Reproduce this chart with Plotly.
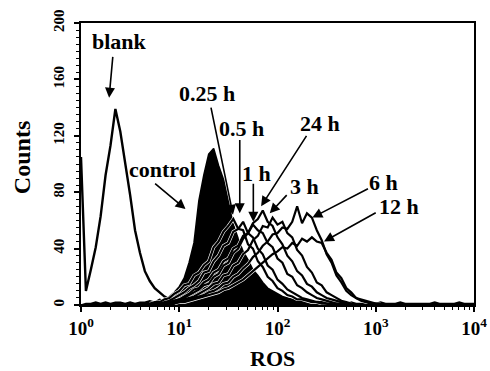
import plotly.graph_objects as go

# channel positions (log10 of ROS intensity)
X_LOG = [
    0.00, 0.05, 0.10, 0.15, 0.20, 0.25, 0.30, 0.35, 0.40, 0.45,
    0.50, 0.55, 0.60, 0.65, 0.70, 0.75, 0.80, 0.85, 0.90, 0.95,
    1.00, 1.05, 1.10, 1.15, 1.20, 1.25, 1.30, 1.35, 1.40, 1.45,
    1.50, 1.55, 1.60, 1.65, 1.70, 1.75, 1.80, 1.85, 1.90, 1.95,
    2.00, 2.05, 2.10, 2.15, 2.20, 2.25, 2.30, 2.35, 2.40, 2.45,
    2.50, 2.55, 2.60, 2.65, 2.70, 2.75, 2.80, 2.85, 2.90, 2.95,
    3.00, 3.05, 3.10, 3.15, 3.20, 3.25, 3.30, 3.35, 3.40, 3.45,
    3.50, 3.55, 3.60, 3.65, 3.70, 3.75, 3.80, 3.85, 3.90, 3.95,
    4.00]

BLANK = [
    105, 10, 25, 41, 63, 92, 113, 139, 123, 101,
    78, 53, 37, 24, 17, 12, 9, 6, 4, 3,
    2, 2, 1, 2, 1, 1, 1, 0, 1, 0,
    0, 0, 0, 0, 0, 0, 0, 0, 0, 0,
    0, 0, 0, 0, 0, 0, 0, 0, 0, 0,
    0, 0, 0, 0, 0, 0, 0, 0, 0, 0,
    0, 0, 0, 0, 0, 0, 0, 0, 0, 0,
    0, 0, 0, 0, 0, 0, 0, 0, 0, 0,
    0]

CONTROL = [
    0, 1, 1, 2, 1, 2, 1, 2, 2, 1,
    2, 1, 2, 2, 3, 2, 4, 3, 6, 9,
    13, 19, 30, 44, 74, 92, 107, 111, 99, 89,
    73, 57, 47, 38, 32, 25, 21, 16, 12, 10,
    8, 6, 5, 4, 3, 3, 2, 2, 3, 2,
    2, 1, 2, 2, 1, 2, 1, 1, 2, 1,
    1, 2, 1, 1, 1, 2, 1, 1, 1, 1,
    1, 1, 2, 1, 1, 1, 1, 2, 1, 1,
    1]

T025 = [
    0, 0, 0, 0, 0, 0, 0, 0, 0, 0,
    0, 0, 0, 0, 1, 2, 2, 4, 5, 8,
    10, 14, 15, 21, 23, 28, 31, 41, 45, 52,
    56, 61, 54, 53, 43, 40, 31, 27, 20, 17,
    12, 10, 7, 6, 4, 4, 3, 2, 2, 1,
    1, 0, 1, 0, 0, 0, 0, 0, 0, 0,
    0, 0, 0, 0, 0, 0, 0, 0, 0, 0,
    0, 0, 0, 0, 0, 0, 0, 0, 0, 0,
    0]

T05 = [
    0, 0, 0, 0, 0, 0, 0, 0, 0, 0,
    0, 0, 0, 0, 0, 1, 1, 2, 3, 5,
    7, 9, 12, 14, 17, 23, 24, 31, 35, 42,
    44, 52, 54, 59, 51, 48, 40, 36, 28, 25,
    18, 15, 11, 9, 7, 5, 4, 3, 2, 2,
    1, 1, 0, 1, 0, 0, 0, 0, 0, 0,
    0, 0, 0, 0, 0, 0, 0, 0, 0, 0,
    0, 0, 0, 0, 0, 0, 0, 0, 0, 0,
    0]

T1 = [
    0, 0, 0, 0, 0, 0, 0, 0, 0, 0,
    0, 0, 0, 0, 0, 0, 0, 1, 2, 3,
    4, 6, 8, 11, 12, 16, 18, 23, 25, 31,
    33, 40, 42, 49, 51, 57, 53, 51, 44, 41,
    33, 30, 22, 20, 14, 12, 9, 7, 5, 4,
    3, 2, 1, 1, 0, 0, 0, 0, 0, 0,
    0, 0, 0, 0, 0, 0, 0, 0, 0, 0,
    0, 0, 0, 0, 0, 0, 0, 0, 0, 0,
    0]

T24 = [
    0, 0, 0, 0, 0, 0, 0, 0, 0, 0,
    0, 0, 0, 0, 0, 0, 0, 1, 2, 3,
    4, 5, 7, 9, 11, 14, 15, 20, 22, 28,
    30, 37, 40, 47, 51, 58, 61, 67, 59, 56,
    48, 43, 35, 31, 24, 21, 15, 13, 9, 7,
    5, 4, 3, 2, 1, 1, 0, 0, 0, 0,
    0, 0, 0, 0, 0, 0, 0, 0, 0, 0,
    0, 0, 0, 0, 0, 0, 0, 0, 0, 0,
    0]

T3 = [
    0, 0, 0, 0, 0, 0, 0, 0, 0, 0,
    0, 0, 0, 0, 0, 0, 0, 0, 1, 2,
    3, 4, 5, 6, 8, 10, 12, 15, 16, 21,
    22, 28, 30, 36, 39, 46, 49, 56, 55, 62,
    57, 59, 51, 48, 39, 35, 27, 23, 16, 14,
    9, 7, 5, 3, 2, 1, 0, 0, 0, 0,
    0, 0, 0, 0, 0, 0, 0, 0, 0, 0,
    0, 0, 0, 0, 0, 0, 0, 0, 0, 0,
    0]

T6 = [
    0, 0, 0, 0, 0, 0, 0, 0, 0, 0,
    0, 0, 0, 0, 0, 0, 0, 0, 1, 2,
    2, 3, 4, 5, 6, 7, 9, 10, 12, 15,
    16, 20, 22, 26, 29, 34, 37, 42, 45, 50,
    51, 55, 54, 59, 70, 58, 65, 62, 53, 46,
    36, 30, 21, 16, 10, 7, 5, 3, 2, 1,
    1, 1, 0, 0, 0, 0, 0, 0, 0, 0,
    0, 0, 0, 0, 0, 0, 0, 0, 0, 0,
    0]

T12 = [
    0, 0, 0, 0, 0, 0, 0, 0, 0, 0,
    0, 0, 0, 0, 0, 0, 0, 0, 0, 1,
    2, 2, 3, 4, 5, 6, 7, 8, 9, 11,
    12, 14, 16, 18, 21, 24, 27, 30, 33, 36,
    38, 41, 40, 44, 42, 47, 45, 48, 45, 44,
    37, 32, 23, 19, 12, 9, 5, 4, 3, 2,
    1, 1, 0, 0, 0, 0, 0, 0, 0, 0,
    0, 0, 0, 0, 0, 0, 0, 0, 0, 0,
    0]

TIME_SERIES = [("12 h", T12), ("6 h", T6), ("3 h", T3), ("24 h", T24),
               ("1 h", T1), ("0.5 h", T05), ("0.25 h", T025)]

X_TICKS = [1, 10, 100, 1000, 10000]
X_TICK_TEXT = ["10<sup>0</sup>", "10<sup>1</sup>", "10<sup>2</sup>", "10<sup>3</sup>", "10<sup>4</sup>"]
Y_TICKS = [0, 40, 80, 120, 160, 200]

# label text positions (log10 x, counts)
LABELS = [("blank", 0.394, 187), ("control", 0.828, 96), ("0.25 h", 1.281, 150),
          ("0.5 h", 1.635, 125), ("1 h", 1.783, 93), ("24 h", 2.433, 129),
          ("3 h", 2.276, 84), ("6 h", 3.074, 87), ("12 h", 3.232, 70)]
# arrows: tail (log x, y) -> head (log x, y)
ARROWS = [(0.325, 177, 0.286, 147), (0.739, 87, 1.064, 68), (1.320, 141, 1.547, 64),
          (1.616, 118, 1.616, 65), (1.754, 87, 1.754, 59), (2.305, 121, 1.833, 70),
          (2.108, 79, 1.921, 65), (2.936, 83, 2.355, 62), (3.015, 66, 2.473, 45)]

FONT = "Liberation Serif, Times New Roman, serif"

x_vals = [10 ** v for v in X_LOG]

fig = go.Figure()
fig.add_trace(go.Scatter(x=x_vals, y=CONTROL, mode="lines", fill="tozeroy",
                         fillcolor="black", line=dict(color="black", width=1.6),
                         showlegend=False, hoverinfo="skip"))
fig.add_trace(go.Scatter(x=x_vals, y=BLANK, mode="lines",
                         line=dict(color="black", width=2.4),
                         showlegend=False, hoverinfo="skip"))
# thin white halo under each time-course outline (only where the histogram is above zero)
for name, ys in TIME_SERIES:
    halo = [v if v > 0 else None for v in ys]
    fig.add_trace(go.Scatter(x=x_vals, y=halo, mode="lines",
                             line=dict(color="white", width=3.4),
                             showlegend=False, hoverinfo="skip"))
for name, ys in TIME_SERIES:
    fig.add_trace(go.Scatter(x=x_vals, y=ys, mode="lines", name=name,
                             line=dict(color="black", width=2.2),
                             showlegend=False, hoverinfo="skip"))

annotations = []
for text, lx, ly in LABELS:
    annotations.append(dict(x=lx, y=ly, xref="x", yref="y", text=text, showarrow=False,
                            font=dict(family=FONT, size=22, color="black", weight="bold"),
                            xanchor="center", yanchor="middle"))
for tx, ty, hx, hy in ARROWS:
    annotations.append(dict(x=hx, y=hy, ax=tx, ay=ty, xref="x", yref="y", axref="x", ayref="y",
                            text="", showarrow=True, arrowhead=2, arrowsize=1.25,
                            arrowwidth=1.6, arrowcolor="black", standoff=0, startstandoff=0))
annotations.append(dict(x=0.488, y=-0.188, xref="paper", yref="paper", text="ROS",
                        showarrow=False, font=dict(family=FONT, size=22, color="black", weight="bold"),
                        xanchor="center", yanchor="middle"))
annotations.append(dict(x=-0.150, y=0.521, xref="paper", yref="paper", text="Counts",
                        showarrow=False, textangle=-90,
                        font=dict(family=FONT, size=24, color="black", weight="bold"),
                        xanchor="center", yanchor="middle"))

minor_x = [m * 10 ** d for d in range(4) for m in range(2, 10)]

fig.update_layout(
    width=490, height=371,
    margin=dict(l=81, r=3, t=23, b=66),
    paper_bgcolor="white", plot_bgcolor="white",
    annotations=annotations,
    font=dict(family=FONT, color="black"),
    xaxis=dict(type="log", range=[0, 4], tickvals=X_TICKS, ticktext=X_TICK_TEXT,
               ticks="outside", ticklen=5, tickwidth=1.5, tickcolor="black",
               showline=True, linewidth=2, linecolor="black", mirror=True,
               showgrid=False, zeroline=False, ticklabeloverflow="allow",
               tickfont=dict(family=FONT, size=19, color="black", weight="bold"),
               minor=dict(tickvals=minor_x, ticks="outside", ticklen=3, tickwidth=1,
                          tickcolor="black", showgrid=False)),
    yaxis=dict(range=[0, 200], tickvals=Y_TICKS, tickangle=-90,
               ticks="outside", ticklen=5, tickwidth=1.5, tickcolor="black",
               showline=True, linewidth=2, linecolor="black", mirror=True,
               showgrid=False, zeroline=False, ticklabelstandoff=4,
               tickfont=dict(family=FONT, size=15, color="black", weight="bold"),
               minor=dict(dtick=5, ticks="outside", ticklen=3, tickwidth=1,
                          tickcolor="black", showgrid=False)),
)

fig.write_html("out.html")
